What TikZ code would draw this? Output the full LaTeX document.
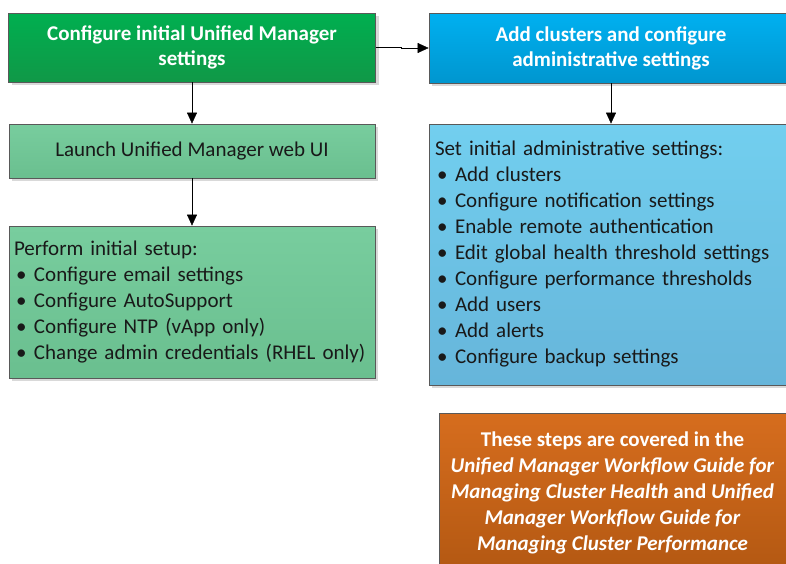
\documentclass[tikz,border=0pt]{standalone}
\usepackage{fontspec}
\setmainfont{Carlito}
\usetikzlibrary{arrows.meta,shadows}

\definecolor{umgreen}{HTML}{00AF50}
\definecolor{umgreendk}{HTML}{109847}
\definecolor{umlgreen}{HTML}{78CD9E}
\definecolor{umlgreendk}{HTML}{6ABF8F}
\definecolor{umblue}{HTML}{00B0F0}
\definecolor{umbluedk}{HTML}{0096CF}
\definecolor{umlblue}{HTML}{72CFEF}
\definecolor{umlbluedk}{HTML}{66B5DA}
\definecolor{umorange}{HTML}{D66D1E}
\definecolor{umorangedk}{HTML}{B35812}

\newcommand{\itm}[1]{\makebox[20pt][l]{\hspace{2pt}\textbullet}#1}

\begin{document}
\begin{tikzpicture}[x=1pt,y=-1pt,>={Triangle[length=11pt,width=10pt]}]
    \tikzstyle{every node}=[font=\fontsize{21}{26}\selectfont, draw=black!65, line width=.8pt,
      inner sep=5pt, drop shadow={shadow xshift=3pt,shadow yshift=-3pt,fill=black!15,opacity=1}]
    \tikzstyle{head}=[text=white, font=\fontsize{21}{25}\selectfont\bfseries, align=center]
    \tikzstyle{task}=[text=black!90, align=left]
    \clip (0,0) rectangle (786,563);

    \node[head, top color=umgreen, bottom color=umgreendk, minimum width=367, minimum height=69]
      (config) at (192,47.5) {Configure initial Unified Manager\\settings};
    \node[head, top color=umblue, bottom color=umbluedk, minimum width=364, minimum height=70]
      (clusters) at (611,48) {Add clusters and configure\\administrative settings};
    \node[task, top color=umlgreen, bottom color=umlgreendk, minimum width=366, minimum height=54, align=center]
      (launch) at (192,151) {Launch Unified Manager web UI};
    \node[task, top color=umlgreen, bottom color=umlgreendk, minimum width=366, minimum height=152, text width=356]
      (setup) at (192,302) {Perform initial setup:\\
        \itm{Configure email settings}\\
        \itm{Configure AutoSupport}\\
        \itm{Configure NTP (vApp only)}\\
        \itm{Change admin credentials (RHEL only)}};
    \node[task, top color=umlblue, bottom color=umlbluedk, minimum width=364, minimum height=261, text width=352]
      (admin) at (611,254.5) {Set initial administrative settings:\\
        \itm{Add clusters}\\
        \itm{Configure notification settings}\\
        \itm{Enable remote authentication}\\
        \itm{Edit global health threshold settings}\\
        \itm{Configure performance thresholds}\\
        \itm{Add users}\\
        \itm{Add alerts}\\
        \itm{Configure backup settings}};
    \node[head, font=\fontsize{21}{26}\selectfont\bfseries, top color=umorange, bottom color=umorangedk,
      minimum width=347, minimum height=160] (guides) at (612.5,493) {These steps are covered in the\\
      \textit{Unified Manager Workflow Guide for}\\
      \textit{Managing Cluster Health} and \textit{Unified}\\
      \textit{Manager Workflow Guide for}\\
      \textit{Managing Cluster Performance}};

    \draw[->] (config.south) -- (launch.north);
    \draw[->] (launch.south) -- (setup.north);
    \draw[->] (config.east) -- +(25,0) |- (clusters.west);
    \draw[->] (clusters.south) -- (admin.north);
\end{tikzpicture}
\end{document}
